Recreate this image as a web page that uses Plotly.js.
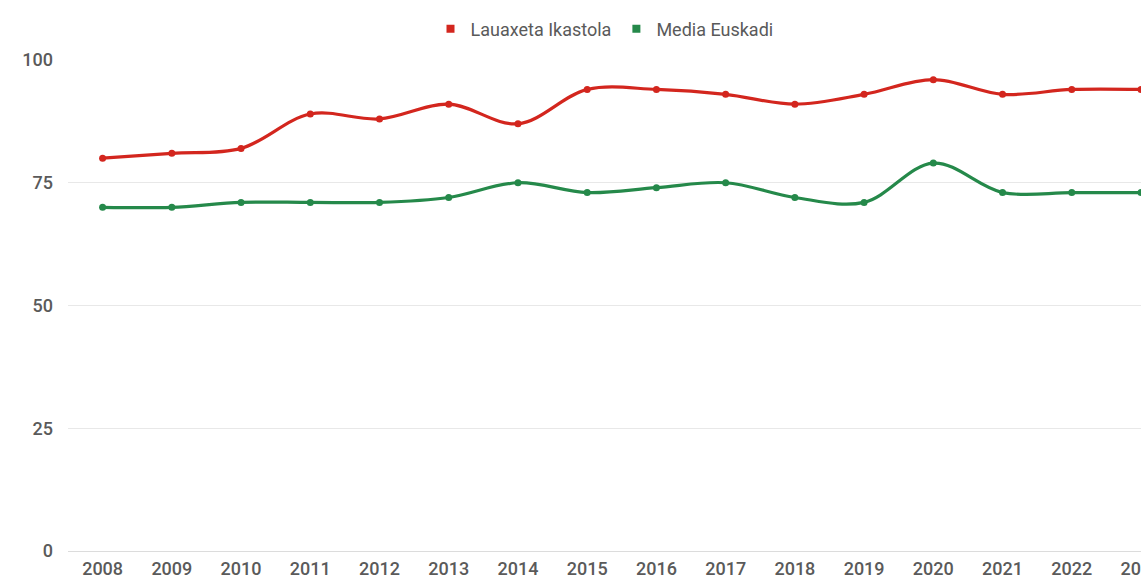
<!DOCTYPE html>
<html>
<head>
<meta charset="utf-8">
<script src="https://cdn.plot.ly/plotly-3.0.1.min.js"></script>
<style>
html,body{margin:0;padding:0;background:#fff;overflow:hidden;}
#chart{width:1141px;height:580px;}
</style>
</head>
<body>
<div id="chart"></div>
<script>
const years = ["2008","2009","2010","2011","2012","2013","2014","2015","2016","2017","2018","2019","2020","2021","2022","2023"];
const lauaxeta = [80,81,82,89,88,91,87,94,94,93,91,93,96,93,94,94];
const euskadi = [70,70,71,71,71,72,75,73,74,75,72,71,79,73,73,73];
const seriesNames = ["Lauaxeta Ikastola","Media Euskadi"];
const seriesColors = ["#d3261e","#25894a"];
const yTicks = [0,25,50,75,100];

function lineTrace(y, i){
  return {
    x: years, y: y, type: "scatter", mode: "lines+markers",
    line: {shape: "spline", smoothing: 1, color: seriesColors[i], width: 3.2},
    marker: {size: 7, color: seriesColors[i]},
    showlegend: false, hoverinfo: "skip", cliponaxis: false
  };
}
function legendTrace(i){
  return {
    x: [null], y: [null], type: "scatter", mode: "markers", name: seriesNames[i],
    marker: {symbol: "square", size: 8, color: seriesColors[i]}, showlegend: true
  };
}

const data = [lineTrace(lauaxeta,0), lineTrace(euskadi,1), legendTrace(0), legendTrace(1)];

const layout = {
  width: 1141, height: 580,
  margin: {l: 68, r: 0, t: 60, b: 29, pad: 0},
  paper_bgcolor: "#ffffff", plot_bgcolor: "#ffffff",
  font: {family: "Roboto, sans-serif", color: "#5a5a5a"},
  showlegend: true,
  legend: {orientation: "h", x: 0.5, xanchor: "center", y: 1.063, yanchor: "middle",
           font: {size: 18, color: "#5a5a5a", family: "Roboto, sans-serif"}, itemwidth: 30, tracegroupgap: 0},
  xaxis: {type: "category", range: [-0.5, 15.0], showgrid: false, zeroline: false, showline: false,
          ticks: "", tickfont: {size: 18, color: "#5a5a5a", family: "Roboto, sans-serif", weight: 500},
          ticklabelstandoff: 5, fixedrange: true},
  yaxis: {range: [0, 100], tickvals: yTicks, ticktext: yTicks.map(String), showgrid: true,
          gridcolor: "#e8e8e8", gridwidth: 1, zeroline: true, zerolinecolor: "#dcdcdc", zerolinewidth: 1,
          showline: false, ticks: "", tickfont: {size: 18, color: "#5a5a5a", family: "Roboto, sans-serif", weight: 500},
          ticklabelstandoff: 14, fixedrange: true}
};

Plotly.newPlot("chart", data, layout, {displayModeBar: false, staticPlot: true});
</script>
</body>
</html>
